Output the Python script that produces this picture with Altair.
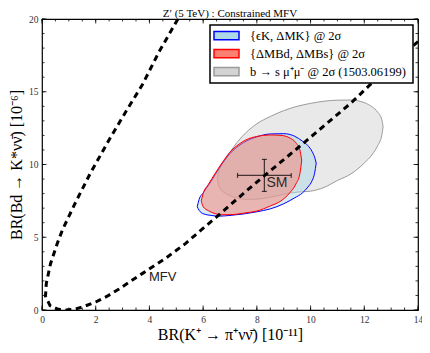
import altair as alt
import pandas as pd

# ---------------- data ----------------
title_text = "Z′ (5 TeV) : Constrained MFV"
x_title = "BR(K⁺ → π⁺νν̄) [10⁻¹¹]"
y_title = "BR(Bd → K*νν̄) [10⁻⁶]"

x_ticks = [0, 2, 4, 6, 8, 10, 12, 14]
x_minor = [v / 2 for v in range(0, 29)]
y_ticks = [0, 5, 10, 15, 20]
y_minor = list(range(0, 21))

# b -> s mu mu region (grey)
gray_x = [6.53, 6.6, 6.8, 7.0, 7.3, 7.6, 8.0, 8.5, 9.0, 9.5, 10.0, 10.5, 11.0, 11.5, 12.0, 12.3, 12.5, 12.65, 12.7]
gray_hi = [9.05, 9.6, 10.3, 10.85, 11.6, 12.2, 12.8, 13.3, 13.7, 14.0, 14.2, 14.35, 14.42, 14.43, 14.25, 13.95, 13.6, 13.1, 12.6]
gray_lo = [9.05, 8.45, 8.05, 7.85, 7.68, 7.6, 7.62, 7.75, 7.95, 8.1, 8.17, 8.42, 8.9, 9.35, 10.1, 10.7, 11.3, 12.0, 12.6]

# eps_K, Delta M_K region (blue)
blue_x = [5.78, 5.85, 6.0, 6.3, 6.6, 7.0, 7.5, 8.0, 8.5, 9.0, 9.4, 9.7, 9.9, 10.06, 10.15, 10.21]
blue_hi = [7.1, 7.6, 8.05, 8.85, 9.75, 10.75, 11.5, 11.9, 12.1, 12.12, 11.95, 11.6, 11.3, 10.88, 10.5, 10.1]
blue_lo = [7.1, 6.85, 6.62, 6.5, 6.45, 6.5, 6.6, 6.75, 6.95, 7.3, 7.7, 8.05, 8.45, 8.9, 9.4, 10.1]

# Delta M_Bd, Delta M_Bs region (red)
red_x = [5.93, 6.0, 6.2, 6.45, 6.7, 7.0, 7.3, 7.6, 8.0, 8.5, 8.9, 9.2, 9.45, 9.6, 9.67]
red_hi = [7.5, 8.0, 8.65, 9.4, 10.1, 10.85, 11.35, 11.7, 11.93, 12.03, 12.0, 11.85, 11.5, 11.0, 10.3]
red_lo = [7.5, 7.1, 6.82, 6.62, 6.55, 6.55, 6.6, 6.68, 6.8, 7.15, 7.5, 8.0, 8.65, 9.35, 10.3]

# MFV dashed curve
mfv_x = [5.06, 4.36, 3.73, 3.12, 2.5, 1.8, 1.25, 0.76, 0.57, 0.32, 0.16, 0.13, 0.3, 0.6, 0.9, 1.2, 1.5, 2.0, 2.43, 2.87, 3.73, 4.6, 5.35, 5.85, 6.47, 7.4, 8.28, 9.5, 10.56, 11.55, 12.17, 13.0, 13.85, 14.0]
mfv_y = [20.0, 17.75, 15.46, 13.63, 11.7, 9.4, 7.4, 5.5, 4.58, 3.2, 1.83, 0.95, 0.3, 0.05, 0.0, 0.05, 0.2, 0.55, 0.95, 1.45, 2.5, 3.55, 4.58, 5.38, 6.35, 7.85, 9.23, 11.1, 12.75, 14.3, 15.4, 16.8, 18.2, 18.45]

# SM point with errors
sm_x, sm_xerr = 8.28, 1.0
sm_y, sm_yerr = 9.25, 1.1
sm_label = "SM"
mfv_label = "MFV"
mfv_label_x, mfv_label_y = 3.98, 2.3

leg_labels = ["{ϵK, ΔMK} @ 2σ", "{ΔMBd, ΔMBs} @ 2σ", "b → s μ⁺μ⁻ @ 2σ (1503.06199)"]
leg_fill = ["#add8e6", "#fa8072", "#d3d3d3"]
leg_stroke = ["#0000ff", "#ff0000", "#9a9a9a"]

# ---------------- chart ----------------
W, H = 376, 291
SERIF = "Liberation Serif"
SANS = "Liberation Sans"

xscale = alt.Scale(domain=[0, 14], nice=False, zero=False)
yscale = alt.Scale(domain=[0, 20], nice=False, zero=False)

xaxis = alt.Axis(values=x_ticks, format="d", title=x_title, tickSize=0, domain=False, grid=False,
                 labelFont=SERIF, labelFontSize=9.5, labelColor="#333", labelPadding=4, labelFlush=False,
                 labelOverlap=False, titleFont=SERIF, titleFontSize=16, titleFontWeight="normal",
                 titleColor="black", titlePadding=3)
yaxis = alt.Axis(values=y_ticks, format="d", title=y_title, tickSize=0, domain=False, grid=False,
                 labelFont=SERIF, labelFontSize=9.5, labelColor="#333", labelPadding=4, labelFlush=False,
                 labelOverlap=False, titleFont=SERIF, titleFontSize=16, titleFontWeight="normal",
                 titleColor="black", titlePadding=4)


def X(field):
    return alt.X(field, scale=xscale, axis=xaxis)


def Y(field):
    return alt.Y(field, scale=yscale, axis=yaxis)


def region(xs, lo, hi, fill, stroke):
    df = pd.DataFrame({"x": xs, "lo": lo, "hi": hi})
    return alt.Chart(df).mark_area(fill=fill, fillOpacity=0.5, stroke=stroke, strokeWidth=1,
                                   interpolate="monotone").encode(
        x=X("x:Q"), y=Y("lo:Q"), y2="hi:Q")


gray = region(gray_x, gray_lo, gray_hi, "#d3d3d3", "#9a9a9a")
blue = region(blue_x, blue_lo, blue_hi, "#add8e6", "#0000ff")
red = region(red_x, red_lo, red_hi, "#fa8072", "#ff0000")

mfv_df = pd.DataFrame({"x": mfv_x, "y": mfv_y, "i": list(range(len(mfv_x)))})
mfv = alt.Chart(mfv_df).mark_line(color="black", strokeWidth=3, strokeDash=[6, 4.5], clip=True).encode(
    x=X("x:Q"), y=Y("y:Q"), order="i:Q")

sm_df = pd.DataFrame({"x": [sm_x], "y": [sm_y], "xl": [sm_x - sm_xerr], "xh": [sm_x + sm_xerr],
                      "yl": [sm_y - sm_yerr], "yh": [sm_y + sm_yerr], "t": [sm_label]})
sm_base = alt.Chart(sm_df)
sm_h = sm_base.mark_rule(color="black", opacity=0.7, strokeWidth=1.3).encode(
    x=X("xl:Q"), x2="xh:Q", y=Y("y:Q"))
sm_v = sm_base.mark_rule(color="black", opacity=0.7, strokeWidth=1.3).encode(
    x=X("x:Q"), y=Y("yl:Q"), y2="yh:Q")
cap_l = sm_base.mark_tick(color="black", opacity=0.7, orient="vertical", size=5, thickness=1.2).encode(
    x=X("xl:Q"), y=Y("y:Q"))
cap_r = sm_base.mark_tick(color="black", opacity=0.7, orient="vertical", size=5, thickness=1.2).encode(
    x=X("xh:Q"), y=Y("y:Q"))
cap_b = sm_base.mark_tick(color="black", opacity=0.7, orient="horizontal", size=5, thickness=1.2).encode(
    x=X("x:Q"), y=Y("yl:Q"))
cap_t = sm_base.mark_tick(color="black", opacity=0.7, orient="horizontal", size=5, thickness=1.2).encode(
    x=X("x:Q"), y=Y("yh:Q"))
sm_text = sm_base.mark_text(font=SANS, fontSize=14, color="#2a2a2a", align="left", baseline="top",
                            dx=2, dy=1).encode(x=X("x:Q"), y=Y("y:Q"), text="t:N")

mfv_txt = alt.Chart(pd.DataFrame({"x": [mfv_label_x], "y": [mfv_label_y], "t": [mfv_label]})).mark_text(
    font=SANS, fontSize=13, color="#222", align="left", baseline="middle").encode(
    x=X("x:Q"), y=Y("y:Q"), text="t:N")


def xticks(vals, length, top):
    df = pd.DataFrame({"v": vals})
    y0, y1 = (0, length) if top else (H, H - length)
    return alt.Chart(df).mark_rule(color="black", strokeWidth=0.8).encode(
        x=X("v:Q"), y=alt.value(y0), y2=alt.value(y1))


def yticks(vals, length, right):
    df = pd.DataFrame({"v": vals})
    x0, x1 = (W, W - length) if right else (0, length)
    return alt.Chart(df).mark_rule(color="black", strokeWidth=0.8).encode(
        y=Y("v:Q"), x=alt.value(x0), x2=alt.value(x1))


ticks = [xticks(x_ticks, 4.5, False), xticks(x_ticks, 4.5, True),
         xticks(x_minor, 2.5, False), xticks(x_minor, 2.5, True),
         yticks(y_ticks, 4.5, False), yticks(y_ticks, 4.5, True),
         yticks(y_minor, 2.5, False), yticks(y_minor, 2.5, True)]

# chart title drawn as a text mark just above the frame
title_mark = alt.Chart(pd.DataFrame({"t": [title_text]})).mark_text(
    font=SERIF, fontSize=11, color="black", align="center", baseline="middle").encode(
    x=alt.value(W / 2), y=alt.value(-5.5), text="t:N")

# custom legend box (upper right)
one = pd.DataFrame({"a": [0]})
leg_layers = [alt.Chart(one).mark_rect(fill="white", stroke="black", strokeWidth=1.5).encode(
    x=alt.value(168), x2=alt.value(371), y=alt.value(6), y2=alt.value(64))]
for i, (lab, fc, sc) in enumerate(zip(leg_labels, leg_fill, leg_stroke)):
    c = 16.6 + 18 * i
    df = pd.DataFrame({"t": [lab]})
    leg_layers.append(alt.Chart(df).mark_rect(fill=fc, stroke=sc, strokeWidth=1.5).encode(
        x=alt.value(172), x2=alt.value(197), y=alt.value(c - 4.2), y2=alt.value(c + 4.2)))
    leg_layers.append(alt.Chart(df).mark_text(font=SERIF, fontSize=12.5, color="black", align="left",
                                              baseline="middle").encode(
        x=alt.value(208), y=alt.value(c), text="t:N"))

chart = alt.layer(
    gray, blue, red, mfv, sm_h, sm_v, cap_l, cap_r, cap_b, cap_t, sm_text, mfv_txt, *ticks,
    title_mark, *leg_layers
).properties(
    width=W, height=H,
    padding={"left": 34, "top": 11, "right": 4, "bottom": 35},
    autosize=alt.AutoSizeParams(type="none"),
).configure_view(stroke="black", strokeWidth=1.2)

chart.save("out.html", embed_options={"renderer": "svg", "actions": False})
